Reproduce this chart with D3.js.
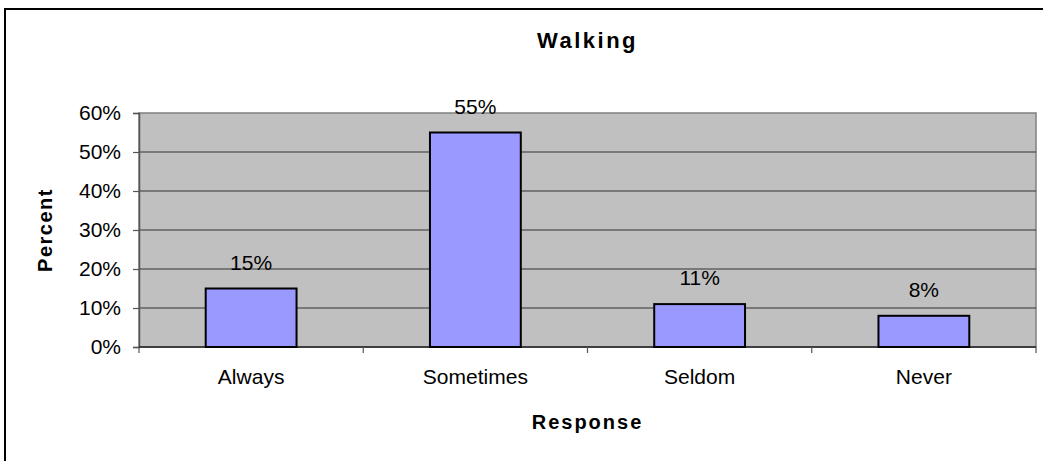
<!DOCTYPE html>
<html>
<head>
<meta charset="utf-8">
<script src="https://cdn.jsdelivr.net/npm/d3@7"></script>
<style>
  html, body { margin: 0; padding: 0; background: #fff; }
  svg { display: block; font-family: "Liberation Sans", Arial, sans-serif; }
</style>
</head>
<body>
<svg id="chart" width="1043" height="461"></svg>
<script>
// Survey responses for walking
const categories = ["Always", "Sometimes", "Seldom", "Never"];
const percentValues = [15, 55, 11, 8];
const yTickValues = [0, 10, 20, 30, 40, 50, 60];
const chartTitle = "Walking";
const xAxisTitle = "Response";
const yAxisTitle = "Percent";

const svg = d3.select("#chart");
const W = 1043, H = 461;
const FONT = "Liberation Sans, Arial, sans-serif";

// outer frame (right and bottom edges run off the canvas)
svg.append("rect")
  .attr("x", 5).attr("y", 9)
  .attr("width", W + 10).attr("height", H + 10)
  .attr("fill", "#fff").attr("stroke", "#000").attr("stroke-width", 2);

const plot = { left: 139, top: 113, right: 1036, bottom: 347 };

const x = d3.scaleBand()
  .domain(categories)
  .range([plot.left, plot.right])
  .paddingInner(0.595)
  .paddingOuter(0.2975);

const y = d3.scaleLinear()
  .domain([0, 60])
  .range([plot.bottom, plot.top]);

// plot background
svg.append("rect")
  .attr("x", plot.left).attr("y", plot.top)
  .attr("width", plot.right - plot.left).attr("height", plot.bottom - plot.top)
  .attr("fill", "#c0c0c0").attr("stroke", "#808080").attr("stroke-width", 1.5);

// horizontal gridlines
svg.append("g")
  .selectAll("line")
  .data(yTickValues.filter(v => v > 0 && v < 60))
  .join("line")
  .attr("x1", plot.left).attr("x2", plot.right)
  .attr("y1", d => y(d)).attr("y2", d => y(d))
  .attr("stroke", "#333").attr("stroke-width", 1.2);

// y axis
const yAxis = svg.append("g")
  .attr("transform", `translate(${plot.left},0)`)
  .call(d3.axisLeft(y).tickValues(yTickValues).tickSize(6).tickPadding(12)
    .tickFormat(d => d + "%"));
yAxis.select(".domain").attr("stroke", "#555").attr("stroke-width", 1.5);
yAxis.selectAll(".tick line").attr("stroke", "#555").attr("stroke-width", 1.2);
yAxis.selectAll(".tick text")
  .attr("font-size", 21).attr("fill", "#000")
  .attr("font-family", FONT);

// x axis: ticks sit on category boundaries
const xAxisG = svg.append("g").attr("transform", `translate(0,${plot.bottom})`);
xAxisG.append("line")
  .attr("x1", plot.left).attr("x2", plot.right)
  .attr("stroke", "#222").attr("stroke-width", 1.5);
const step = (plot.right - plot.left) / categories.length;
xAxisG.selectAll("line.tick")
  .data(d3.range(categories.length + 1))
  .join("line").attr("class", "tick")
  .attr("x1", i => plot.left + i * step).attr("x2", i => plot.left + i * step)
  .attr("y1", 0).attr("y2", 6)
  .attr("stroke", "#555").attr("stroke-width", 1.2);
xAxisG.selectAll("text")
  .data(categories)
  .join("text")
  .attr("x", d => x(d) + x.bandwidth() / 2)
  .attr("y", 37)
  .attr("text-anchor", "middle")
  .attr("font-size", 21)
  .text(d => d);

// bars
svg.append("g")
  .selectAll("rect")
  .data(percentValues)
  .join("rect")
  .attr("x", (d, i) => x(categories[i]))
  .attr("y", d => y(d))
  .attr("width", x.bandwidth())
  .attr("height", d => y(0) - y(d))
  .attr("fill", "#9999ff")
  .attr("stroke", "#000").attr("stroke-width", 2);

// value labels
svg.append("g")
  .selectAll("text")
  .data(percentValues)
  .join("text")
  .attr("x", (d, i) => x(categories[i]) + x.bandwidth() / 2)
  .attr("y", d => y(d) - 19)
  .attr("text-anchor", "middle")
  .attr("font-size", 21)
  .text(d => d + "%");

// titles
svg.append("text")
  .attr("x", (plot.left + plot.right) / 2).attr("y", 48)
  .attr("text-anchor", "middle")
  .attr("font-size", 22).attr("font-weight", "bold").attr("letter-spacing", 2.5)
  .text(chartTitle);

svg.append("text")
  .attr("x", (plot.left + plot.right) / 2).attr("y", 429)
  .attr("text-anchor", "middle")
  .attr("font-size", 20).attr("font-weight", "bold").attr("letter-spacing", 2)
  .text(xAxisTitle);

svg.append("text")
  .attr("transform", `translate(52,${(plot.top + plot.bottom) / 2}) rotate(-90)`)
  .attr("text-anchor", "middle")
  .attr("font-size", 20).attr("font-weight", "bold").attr("letter-spacing", 1.5)
  .text(yAxisTitle);
</script>
</body>
</html>
